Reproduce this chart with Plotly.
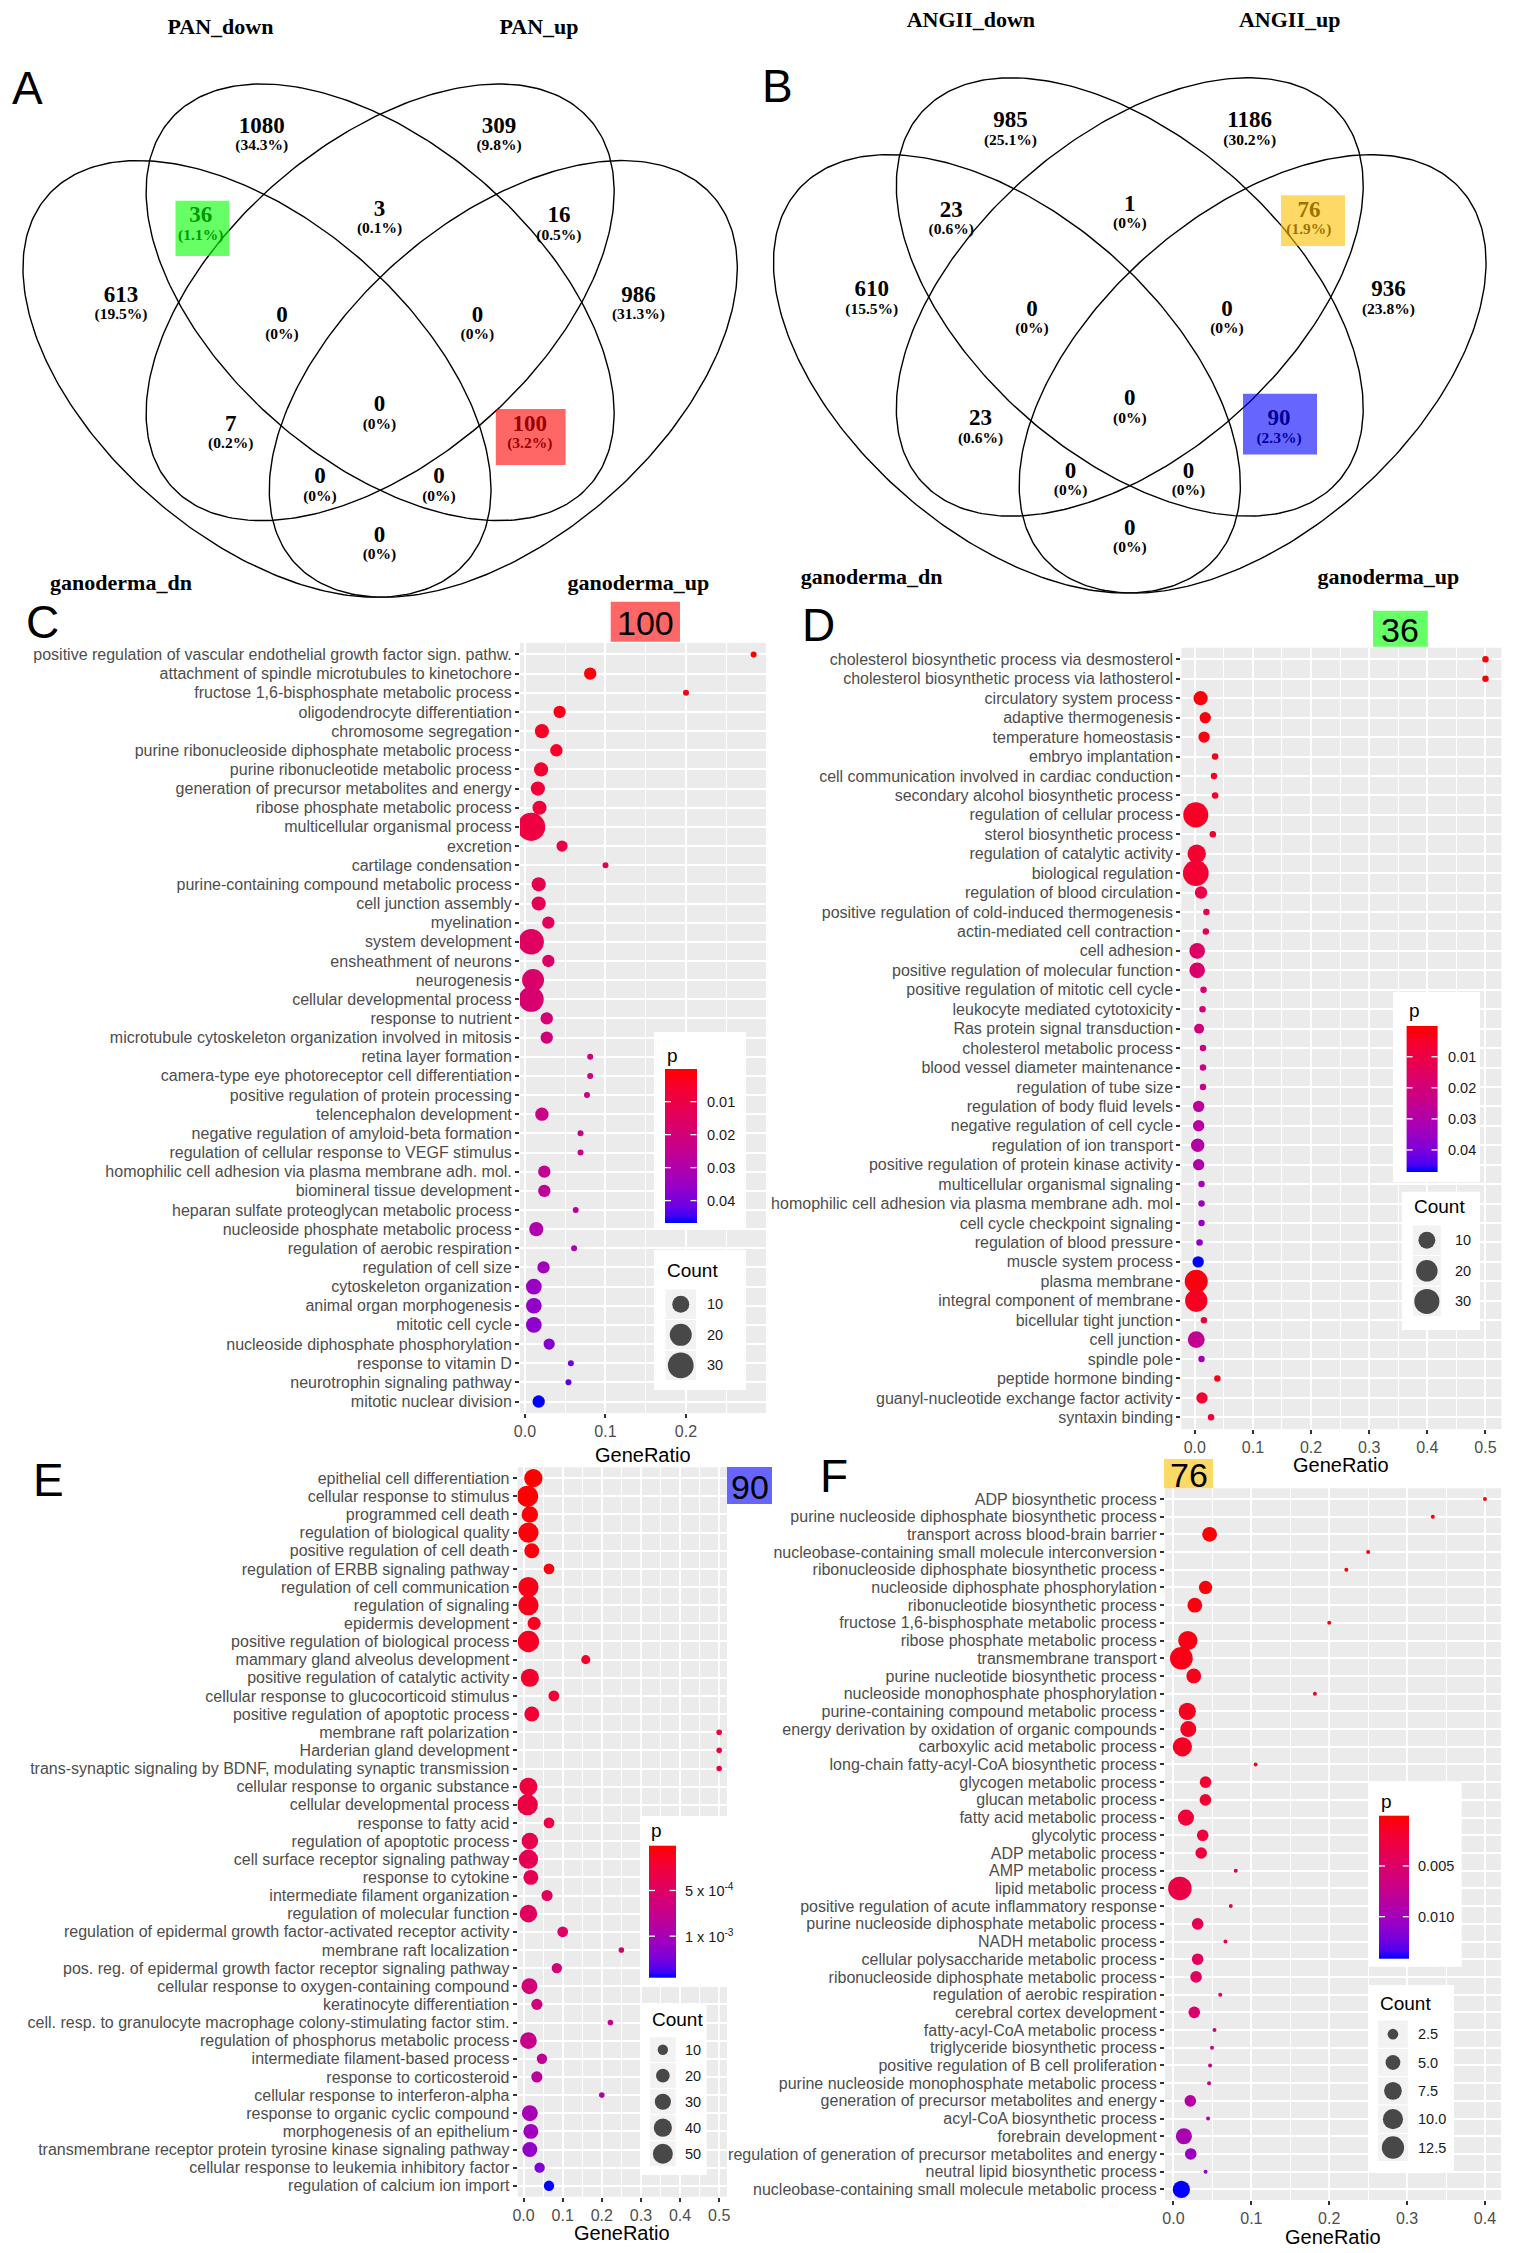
import numpy as np
import plotly.graph_objects as go

W, H = 1515, 2253

# ---------------- DATA ----------------
venn_A_sets = ["PAN_down", "PAN_up", "ganoderma_dn", "ganoderma_up"]
venn_A_counts = [1080, 309, 36, 3, 16, 613, 0, 0, 986, 7, 0, 100, 0, 0, 0]
venn_B_sets = ["ANGII_down", "ANGII_up", "ganoderma_dn", "ganoderma_up"]
venn_B_counts = [985, 1186, 23, 1, 76, 610, 0, 0, 936, 23, 0, 90, 0, 0, 0]

C_terms = [
    "positive regulation of vascular endothelial growth factor sign. pathw.",
    "attachment of spindle microtubules to kinetochore",
    "fructose 1,6-bisphosphate metabolic process",
    "oligodendrocyte differentiation",
    "chromosome segregation",
    "purine ribonucleoside diphosphate metabolic process",
    "purine ribonucleotide metabolic process",
    "generation of precursor metabolites and energy",
    "ribose phosphate metabolic process",
    "multicellular organismal process",
    "excretion",
    "cartilage condensation",
    "purine-containing compound metabolic process",
    "cell junction assembly",
    "myelination",
    "system development",
    "ensheathment of neurons",
    "neurogenesis",
    "cellular developmental process",
    "response to nutrient",
    "microtubule cytoskeleton organization involved in mitosis",
    "retina layer formation",
    "camera-type eye photoreceptor cell differentiation",
    "positive regulation of protein processing",
    "telencephalon development",
    "negative regulation of amyloid-beta formation",
    "regulation of cellular response to VEGF stimulus",
    "homophilic cell adhesion via plasma membrane adh. mol.",
    "biomineral tissue development",
    "heparan sulfate proteoglycan metabolic process",
    "nucleoside phosphate metabolic process",
    "regulation of aerobic respiration",
    "regulation of cell size",
    "cytoskeleton organization",
    "animal organ morphogenesis",
    "mitotic cell cycle",
    "nucleoside diphosphate phosphorylation",
    "response to vitamin D",
    "neurotrophin signaling pathway",
    "mitotic nuclear division",
]
C_ratio = [0.284, 0.081, 0.200, 0.043, 0.021, 0.039, 0.020, 0.016, 0.018, 0.0077,
           0.046, 0.100, 0.017, 0.017, 0.029, 0.0077, 0.029, 0.010, 0.0077, 0.027,
           0.027, 0.081, 0.081, 0.077, 0.021, 0.069, 0.069, 0.024, 0.024, 0.063,
           0.014, 0.061, 0.023, 0.011, 0.011, 0.011, 0.030, 0.057, 0.054, 0.017]
C_count = [1, 4, 1, 4, 6, 4, 6, 6, 6, 37, 3, 1, 6, 6, 4, 29, 4, 20, 28, 4,
           4, 1, 1, 1, 5, 1, 1, 4, 4, 1, 6, 1, 4, 8, 8, 8, 3, 1, 1, 4]
C_p = [0.0001, 0.0015, 0.002, 0.003, 0.0045, 0.005, 0.006, 0.0075, 0.008, 0.009,
       0.010, 0.011, 0.012, 0.0125, 0.014, 0.015, 0.016, 0.017, 0.018, 0.019,
       0.020, 0.021, 0.021, 0.022, 0.023, 0.024, 0.024, 0.025, 0.026, 0.028,
       0.030, 0.031, 0.033, 0.035, 0.036, 0.037, 0.038, 0.041, 0.043, 0.0467]

D_terms = [
    "cholesterol biosynthetic process via desmosterol",
    "cholesterol biosynthetic process via lathosterol",
    "circulatory system process",
    "adaptive thermogenesis",
    "temperature homeostasis",
    "embryo implantation",
    "cell communication involved in cardiac conduction",
    "secondary alcohol biosynthetic process",
    "regulation of cellular process",
    "sterol biosynthetic process",
    "regulation of catalytic activity",
    "biological regulation",
    "regulation of blood circulation",
    "positive regulation of cold-induced thermogenesis",
    "actin-mediated cell contraction",
    "cell adhesion",
    "positive regulation of molecular function",
    "positive regulation of mitotic cell cycle",
    "leukocyte mediated cytotoxicity",
    "Ras protein signal transduction",
    "cholesterol metabolic process",
    "blood vessel diameter maintenance",
    "regulation of tube size",
    "regulation of body fluid levels",
    "negative regulation of cell cycle",
    "regulation of ion transport",
    "positive regulation of protein kinase activity",
    "multicellular organismal signaling",
    "homophilic cell adhesion via plasma membrane adh. mol",
    "cell cycle checkpoint signaling",
    "regulation of blood pressure",
    "muscle system process",
    "plasma membrane",
    "integral component of membrane",
    "bicellular tight junction",
    "cell junction",
    "spindle pole",
    "peptide hormone binding",
    "guanyl-nucleotide exchange factor activity",
    "syntaxin binding",
]
D_ratio = [0.5, 0.5, 0.010, 0.018, 0.016, 0.035, 0.033, 0.035, 0.0017, 0.031,
           0.0033, 0.0017, 0.0107, 0.020, 0.019, 0.0041, 0.0041, 0.015, 0.0133, 0.0074,
           0.0141, 0.0141, 0.0141, 0.0066, 0.0066, 0.005, 0.0066, 0.0116, 0.0116, 0.0116,
           0.0082, 0.0058, 0.0025, 0.0025, 0.0157, 0.0025, 0.0116, 0.0389, 0.0124, 0.028]
D_count = [1, 1, 6, 3, 3, 1, 1, 1, 30, 1, 13, 32, 4, 1, 1, 8, 8, 1, 1, 2,
           1, 1, 1, 3, 3, 5, 3, 1, 1, 1, 1, 3, 24, 22, 1, 10, 1, 1, 3, 1]
D_p = [0.0001, 0.0001, 0.0012, 0.002, 0.0025, 0.003, 0.0035, 0.004, 0.0045, 0.005,
       0.006, 0.0065, 0.010, 0.012, 0.013, 0.016, 0.017, 0.018, 0.019, 0.021,
       0.022, 0.023, 0.024, 0.027, 0.028, 0.029, 0.030, 0.033, 0.034, 0.035,
       0.037, 0.047, 0.002, 0.004, 0.010, 0.025, 0.033, 0.003, 0.006, 0.007]

E_terms = [
    "epithelial cell differentiation",
    "cellular response to stimulus",
    "programmed cell death",
    "regulation of biological quality",
    "positive regulation of cell death",
    "regulation of ERBB signaling pathway",
    "regulation of cell communication",
    "regulation of signaling",
    "epidermis development",
    "positive regulation of biological process",
    "mammary gland alveolus development",
    "positive regulation of catalytic activity",
    "cellular response to glucocorticoid stimulus",
    "positive regulation of apoptotic process",
    "membrane raft polarization",
    "Harderian gland development",
    "trans-synaptic signaling by BDNF, modulating synaptic transmission",
    "cellular response to organic substance",
    "cellular developmental process",
    "response to fatty acid",
    "regulation of apoptotic process",
    "cell surface receptor signaling pathway",
    "response to cytokine",
    "intermediate filament organization",
    "regulation of molecular function",
    "regulation of epidermal growth factor-activated receptor activity",
    "membrane raft localization",
    "pos. reg. of epidermal growth factor receptor signaling pathway",
    "cellular response to oxygen-containing compound",
    "keratinocyte differentiation",
    "cell. resp. to granulocyte macrophage colony-stimulating factor stim.",
    "regulation of phosphorus metabolic process",
    "intermediate filament-based process",
    "response to corticosteroid",
    "cellular response to interferon-alpha",
    "response to organic cyclic compound",
    "morphogenesis of an epithelium",
    "transmembrane receptor protein tyrosine kinase signaling pathway",
    "cellular response to leukemia inhibitory factor",
    "regulation of calcium ion import",
]
E_ratio = [0.025, 0.010, 0.016, 0.0124, 0.021, 0.065, 0.0124, 0.0124, 0.027, 0.0124,
           0.159, 0.016, 0.0774, 0.021, 0.5, 0.5, 0.5, 0.0124, 0.010, 0.065,
           0.016, 0.0124, 0.0186, 0.060, 0.0124, 0.100, 0.25, 0.085, 0.015, 0.034,
           0.222, 0.0124, 0.047, 0.034, 0.200, 0.016, 0.0186, 0.016, 0.041, 0.065]
E_count = [40, 58, 32, 52, 25, 11, 52, 52, 18, 58, 7, 40, 11, 25, 2, 2, 2, 39, 55, 11,
           32, 46, 25, 12, 37, 11, 2, 10, 29, 12, 2, 33, 10, 12, 2, 29, 25, 25, 10, 10]
E_p = [0.00001, 0.00002, 0.00004, 0.00005, 0.00006, 0.00008, 0.0001, 0.00011, 0.00013, 0.00014,
       0.00016, 0.00018, 0.0002, 0.00022, 0.00024, 0.00025, 0.00026, 0.00028, 0.0003, 0.00033,
       0.00035, 0.00038, 0.0004, 0.00043, 0.00046, 0.0005, 0.00055, 0.0006, 0.00062, 0.00065,
       0.0007, 0.00075, 0.0008, 0.00085, 0.0009, 0.001, 0.00105, 0.00112, 0.0012, 0.00145]

F_terms = [
    "ADP biosynthetic process",
    "purine nucleoside diphosphate biosynthetic process",
    "transport across blood-brain barrier",
    "nucleobase-containing small molecule interconversion",
    "ribonucleoside diphosphate biosynthetic process",
    "nucleoside diphosphate phosphorylation",
    "ribonucleotide biosynthetic process",
    "fructose 1,6-bisphosphate metabolic process",
    "ribose phosphate metabolic process",
    "transmembrane transport",
    "purine nucleotide biosynthetic process",
    "nucleoside monophosphate phosphorylation",
    "purine-containing compound metabolic process",
    "energy derivation by oxidation of organic compounds",
    "carboxylic acid metabolic process",
    "long-chain fatty-acyl-CoA biosynthetic process",
    "glycogen metabolic process",
    "glucan metabolic process",
    "fatty acid metabolic process",
    "glycolytic process",
    "ADP metabolic process",
    "AMP metabolic process",
    "lipid metabolic process",
    "positive regulation of acute inflammatory response",
    "purine nucleoside diphosphate metabolic process",
    "NADH metabolic process",
    "cellular polysaccharide metabolic process",
    "ribonucleoside diphosphate metabolic process",
    "regulation of aerobic respiration",
    "cerebral cortex development",
    "fatty-acyl-CoA metabolic process",
    "triglyceride biosynthetic process",
    "positive regulation of B cell proliferation",
    "purine nucleoside monophosphate metabolic process",
    "generation of precursor metabolites and energy",
    "acyl-CoA biosynthetic process",
    "forebrain development",
    "regulation of generation of precursor metabolites and energy",
    "neutral lipid biosynthetic process",
    "nucleobase-containing small molecule metabolic process",
]
F_ratio = [0.4, 0.333, 0.0464, 0.25, 0.222, 0.0412, 0.0274, 0.2, 0.0184, 0.0101,
           0.026, 0.1816, 0.0177, 0.019, 0.0114, 0.1055, 0.0412, 0.041, 0.016, 0.0375,
           0.0356, 0.08, 0.0082, 0.0736, 0.031, 0.0667, 0.031, 0.029, 0.06, 0.0267,
           0.0527, 0.0495, 0.047, 0.0457, 0.0216, 0.0444, 0.0134, 0.0222, 0.0412, 0.0101]
F_count = [1, 1, 5, 1, 1, 4, 5, 1, 9, 13, 5, 1, 7, 6, 9, 1, 3, 3, 6, 3,
           3, 1, 14, 1, 3, 1, 3, 3, 1, 3, 1, 1, 1, 1, 3, 1, 6, 3, 1, 7]
F_p = [0.00005, 0.0001, 0.0002, 0.0003, 0.0004, 0.0005, 0.0006, 0.0007, 0.0008, 0.0009,
       0.001, 0.0011, 0.0012, 0.0013, 0.0014, 0.0016, 0.0018, 0.0019, 0.0022, 0.0024,
       0.0025, 0.0028, 0.003, 0.0033, 0.0038, 0.004, 0.0043, 0.0045, 0.005, 0.0053,
       0.006, 0.0064, 0.007, 0.0075, 0.0085, 0.009, 0.0095, 0.0105, 0.011, 0.0141]

C_p_ticks = [0.01, 0.02, 0.03, 0.04]
D_p_ticks = [0.01, 0.02, 0.03, 0.04]
E_p_ticks = [5e-4, 1e-3]
F_p_ticks = [0.005, 0.010]
C_size_breaks = [10, 20, 30]
D_size_breaks = [10, 20, 30]
E_size_breaks = [10, 20, 30, 40, 50]
F_size_breaks = [2.5, 5.0, 7.5, 10.0, 12.5]

# ---------------- STYLE / LAYOUT ----------------
CS = [[0, "rgb(255,0,0)"], [0.125, "rgb(244,0,49)"], [0.25, "rgb(232,0,79)"],
      [0.375, "rgb(217,0,109)"], [0.5, "rgb(201,0,136)"], [0.625, "rgb(179,0,167)"],
      [0.75, "rgb(154,0,195)"], [0.875, "rgb(115,0,224)"], [0.95, "rgb(75,0,243)"],
      [1, "rgb(0,0,255)"]]
SANS = "Liberation Sans, Arial, sans-serif"
SERIF = "Liberation Serif, Times New Roman, serif"
TICKCOL = "#333333"
LABCOL = "#4D4D4D"

PANELS = [
    dict(terms=C_terms, ratio=C_ratio, count=C_count, p=C_p,
         box=(520, 766, 643, 1413), xr=(-0.0062, 0.2994), sz=(6.0, 3.67), title_y=1455,
         letter=("C", 42, 622), tag=("100", "rgb(255,102,102)", (610.7, 680, 601.7, 641.7)),
         pticks=C_p_ticks, ptext=["0.01", "0.02", "0.03", "0.04"],
         pbg=(654, 746, 1032, 1230), bar=(665, 696.5, 1069, 1222.7), ptitle=(665, 1055), plab=705,
         sbreaks=C_size_breaks, stext=["10", "20", "30"],
         cbg=(654, 746, 1250, 1390), key=(665, 696.5, 1289, 1380.7), ctitle=(665, 1270), clab=705),
    dict(terms=D_terms, ratio=D_ratio, count=D_count, p=D_p,
         box=(1181.3, 1501.5, 647.7, 1429), xr=(-0.0232, 0.5276), sz=(6.5, 3.45), title_y=1465,
         letter=("D", 818.7, 625), tag=("36", "rgb(102,255,102)", (1373, 1427.8, 610.7, 646.7)),
         pticks=D_p_ticks, ptext=["0.01", "0.02", "0.03", "0.04"],
         pbg=(1393, 1480, 992, 1182), bar=(1406.6, 1437.5, 1026, 1171.7), ptitle=(1406.6, 1010), plab=1446,
         sbreaks=D_size_breaks, stext=["10", "20", "30"],
         cbg=(1401.8, 1480, 1191.7, 1330), key=(1412.4, 1441.3, 1225, 1316.7), ctitle=(1412.4, 1206), clab=1453.4),
    dict(terms=E_terms, ratio=E_ratio, count=E_count, p=E_p,
         box=(517.7, 727, 1467.3, 2196.7), xr=(-0.015, 0.52), sz=(3.2, 2.4), title_y=2233.3,
         letter=("E", 48.5, 1480), tag=("90", "rgb(102,102,255)", (727, 772, 1467, 1504)),
         pticks=E_p_ticks, ptext=["5 x 10<sup>-4</sup>", "1 x 10<sup>-3</sup>"],
         pbg=(640, 727, 1816, 1985), bar=(649, 675.7, 1845.7, 1977.3), ptitle=(649, 1830.7), plab=683.3,
         sbreaks=E_size_breaks, stext=["10", "20", "30", "40", "50"],
         cbg=(640, 706.7, 2005, 2175), key=(649.5, 676.2, 2036.7, 2166.7), ctitle=(649.5, 2019.3), clab=683.4),
    dict(terms=F_terms, ratio=F_ratio, count=F_count, p=F_p,
         box=(1165, 1501, 1488.3, 2200), xr=(-0.0109, 0.4206), sz=(4.0, 5.4), title_y=2237.3,
         letter=("F", 834, 1475.7), tag=("76", "rgb(255,217,102)", (1164, 1213, 1459, 1488.3)),
         pticks=F_p_ticks, ptext=["0.005", "0.010"],
         pbg=(1368.8, 1461.7, 1781, 1966.7), bar=(1379, 1408.8, 1815.7, 1958.3), ptitle=(1379, 1801.7), plab=1416.2,
         sbreaks=F_size_breaks, stext=["2.5", "5.0", "7.5", "10.0", "12.5"],
         cbg=(1368.8, 1454, 1985, 2171.7), key=(1377.6, 1408.3, 2020, 2161.7), ctitle=(1377.6, 2003.3), clab=1416.2),
]

# Venn layout (pixel positions of region labels)
VENN = [
    dict(sets=venn_A_sets, counts=venn_A_counts, origin=(23, 84), scale=(821, 766),
         set_pos=[(220.5, 28), (539, 28), (121, 584.7), (638.4, 584.7)],
         pos=[(261.7, 127), (499, 127), (200.7, 216.7), (379.5, 210), (558.9, 216.7),
              (121, 296), (282, 316), (477.4, 316), (638.4, 296), (230.7, 425),
              (379.5, 405.7), (529.8, 425), (320, 477.7), (439, 477.7), (379.5, 536)],
         boxes=[((175.5, 229.3, 200.7, 256), "rgb(0,255,0)"), ((495.8, 565.6, 409, 465), "rgb(255,0,0)")],
         letter=("A", 27.6, 87.5)),
    dict(sets=venn_B_sets, counts=venn_B_counts, origin=(773.5, 77.8), scale=(819, 769),
         set_pos=[(970.9, 21.4), (1289.7, 21.4), (871.7, 578.8), (1388.4, 578.8)],
         pos=[(1010.4, 121.4), (1249.7, 121.4), (951.2, 210.8), (1129.8, 205), (1308.9, 210.8),
              (871.7, 290.6), (1032, 310), (1227, 310), (1388.4, 290.6), (980.5, 419.3),
              (1129.8, 399.5), (1279, 419.3), (1070.6, 471.9), (1188.5, 471.9), (1129.8, 529)],
         boxes=[((1281, 1345, 195.3, 245.9), "rgb(255,192,0)"), ((1243, 1317, 393.7, 454.4), "rgb(0,0,255)")],
         letter=("B", 777, 86)),
]


def fx(x0, x1):
    return [x0 / W, x1 / W]


def fy(y0, y1):
    return [1 - y1 / H, 1 - y0 / H]


def dot_size(counts, a, b):
    return [a + b * np.sqrt(max(c - 1, 0)) for c in counts]


fig = go.Figure()
shapes = []
annotations = []
axes = {}
PX, PY = "x5", "y5"


def rect(x0, x1, y0, y1, color, layer="below", opacity=1.0, line=None):
    shapes.append(dict(type="rect", xref=PX, yref=PY, x0=x0, x1=x1, y0=y0, y1=y1,
                       fillcolor=color, line=line or dict(width=0), layer=layer, opacity=opacity))


def text(x, y, s, size, color="black", xanchor="center", family=SANS):
    annotations.append(dict(xref=PX, yref=PY, x=x, y=y, text=s, showarrow=False,
                            xanchor=xanchor, yanchor="middle",
                            font=dict(size=size, color=color, family=family)))


# ---- dot panels ----
for i, P in enumerate(PANELS, start=1):
    xa, ya = f"x{i}" if i > 1 else "x", f"y{i}" if i > 1 else "y"
    xk, yk = f"xaxis{i}" if i > 1 else "xaxis", f"yaxis{i}" if i > 1 else "yaxis"
    a, b = P["sz"]
    pmin, pmax = min(P["p"]), max(P["p"])
    fig.add_trace(go.Scatter(
        x=P["ratio"], y=P["terms"], mode="markers",
        marker=dict(size=dot_size(P["count"], a, b), color=P["p"], colorscale=CS,
                    cmin=pmin, cmax=pmax, line=dict(width=0), opacity=1),
        xaxis=xa, yaxis=ya, showlegend=False, hoverinfo="skip"))
    x0, x1, y0, y1 = P["box"]
    n = len(P["terms"])
    axes[xk] = dict(domain=fx(x0, x1), range=list(P["xr"]), anchor=ya, dtick=0.1, tick0=0,
                    tickformat=".1f", showgrid=True, gridcolor="white", gridwidth=2,
                    minor=dict(dtick=0.05, tick0=0, showgrid=True, gridcolor="white", gridwidth=1),
                    ticks="outside", ticklen=4, tickwidth=1.5, tickcolor=TICKCOL,
                    tickfont=dict(size=16, color=LABCOL, family=SANS), zeroline=False,
                    showline=False, automargin=False, fixedrange=True)
    axes[yk] = dict(domain=fy(y0, y1), type="category", categoryorder="array",
                    categoryarray=P["terms"], range=[n - 1 + 0.6, -0.6], anchor=xa,
                    tickmode="array", tickvals=P["terms"], ticktext=P["terms"],
                    showgrid=True, gridcolor="white", gridwidth=2,
                    ticks="outside", ticklen=4, tickwidth=1.5, tickcolor=TICKCOL,
                    tickfont=dict(size=16, color=LABCOL, family=SANS), zeroline=False,
                    showline=False, automargin=False, fixedrange=True)
    shapes.append(dict(type="rect", xref=f"{xa} domain", yref=f"{ya} domain", x0=0, x1=1, y0=0, y1=1,
                       fillcolor="#EBEBEB", line=dict(width=0), layer="below"))

# page axis (pixel coordinates) for Venn diagrams, legends and labels
axes["xaxis5"] = dict(domain=[0, 1], range=[0, W], visible=False, anchor="y5", fixedrange=True)
axes["yaxis5"] = dict(domain=[0, 1], range=[H, 0], visible=False, anchor="x5", fixedrange=True)

for i, P in enumerate(PANELS, start=1):
    a, b = P["sz"]
    pmin, pmax = min(P["p"]), max(P["p"])
    x0, x1, y0, y1 = P["box"]
    text((x0 + x1) / 2, P["title_y"], "GeneRatio", 20, "black")
    L, lx, ly = P["letter"]
    text(lx, ly, L, 46, "black")
    tg, tcol, (tx0, tx1, ty0, ty1) = P["tag"]
    rect(tx0, tx1, ty0, ty1, tcol)
    text((tx0 + tx1) / 2, (ty0 + ty1) / 2 + 1, tg, 34, "black")
    # p legend
    rect(*P["pbg"], "white")
    bx0, bx1, by0, by1 = P["bar"]
    N = 160
    zv = np.linspace(pmin, pmax, N)
    step = (by1 - by0) / N
    fig.add_trace(go.Heatmap(z=zv.reshape(-1, 1), x0=(bx0 + bx1) / 2, dx=bx1 - bx0,
                             y0=by0 + step / 2, dy=step, colorscale=CS, zmin=pmin, zmax=pmax,
                             showscale=False, xaxis=PX, yaxis=PY, hoverinfo="skip"))
    text(P["ptitle"][0], P["ptitle"][1], "p", 19, "black", xanchor="left")
    for v, t in zip(P["pticks"], P["ptext"]):
        yy = by0 + (v - pmin) / (pmax - pmin) * (by1 - by0)
        for (lx0, lx1) in [(bx0, bx0 + 6), (bx1 - 6, bx1)]:
            shapes.append(dict(type="line", xref=PX, yref=PY, x0=lx0, x1=lx1, y0=yy, y1=yy,
                               line=dict(color="white", width=1.3), layer="above"))
        text(P["plab"], yy, t, 14.5, "#1A1A1A", xanchor="left")
    # count legend
    rect(*P["cbg"], "white")
    kx0, kx1, ky0, ky1 = P["key"]
    nk = len(P["sbreaks"])
    kh = (ky1 - ky0) / nk
    for j in range(nk):
        rect(kx0, kx1, ky0 + j * kh, ky0 + (j + 1) * kh, "#F2F2F2",
             line=dict(width=1, color="white"))
    cy = [ky0 + (j + 0.5) * kh for j in range(nk)]
    fig.add_trace(go.Scatter(x=[(kx0 + kx1) / 2] * nk, y=cy, mode="markers",
                             marker=dict(size=dot_size(P["sbreaks"], a, b), color="black",
                                         line=dict(width=0)),
                             xaxis=PX, yaxis=PY, showlegend=False, hoverinfo="skip"))
    text(P["ctitle"][0], P["ctitle"][1], "Count", 19, "black", xanchor="left")
    for yy, t in zip(cy, P["stext"]):
        text(P["clab"], yy, t, 14.5, "#1A1A1A", xanchor="left")

# ---- Venn diagrams ----
ELL = [(0.35, 0.47, -45), (0.5, 0.57, -45), (0.5, 0.57, 45), (0.65, 0.47, 45)]
for V in VENN:
    ox, oy = V["origin"]
    sx, sy = V["scale"]
    xs, ys = [], []
    t = np.linspace(0, 2 * np.pi, 300)
    for cx, cyy, ang in ELL:
        th = np.deg2rad(ang)
        ex = cx + 0.35 * np.cos(t) * np.cos(th) - 0.2 * np.sin(t) * np.sin(th)
        ey = cyy + 0.35 * np.cos(t) * np.sin(th) + 0.2 * np.sin(t) * np.cos(th)
        xs += list(ox + (ex - 0.065) * sx) + [None]
        ys += list(oy + (0.855 - ey) * sy) + [None]
    fig.add_trace(go.Scatter(x=xs, y=ys, mode="lines", line=dict(color="black", width=1.4),
                             xaxis=PX, yaxis=PY, showlegend=False, hoverinfo="skip"))
    total = sum(V["counts"])
    pct = [f"({round(100 * c / total, 1):g}%)" for c in V["counts"]]
    fig.add_trace(go.Scatter(x=[p[0] for p in V["pos"]], y=[p[1] for p in V["pos"]],
                             text=[f"<b>{c}</b>" for c in V["counts"]], mode="text",
                             textfont=dict(family=SERIF, size=23, color="black"),
                             xaxis=PX, yaxis=PY, showlegend=False, hoverinfo="skip"))
    fig.add_trace(go.Scatter(x=[p[0] for p in V["pos"]], y=[p[1] + 19.5 for p in V["pos"]],
                             text=[f"<b>{s}</b>" for s in pct], mode="text",
                             textfont=dict(family=SERIF, size=15.5, color="black"),
                             xaxis=PX, yaxis=PY, showlegend=False, hoverinfo="skip"))
    fig.add_trace(go.Scatter(x=[p[0] for p in V["set_pos"]], y=[p[1] for p in V["set_pos"]],
                             text=[f"<b>{s}</b>" for s in V["sets"]], mode="text",
                             textfont=dict(family=SERIF, size=22, color="black"),
                             xaxis=PX, yaxis=PY, showlegend=False, hoverinfo="skip"))
    for (bx, col) in V["boxes"]:
        rect(*bx, col, layer="above", opacity=0.6)
    L, lx, ly = V["letter"]
    text(lx, ly, L, 46, "black")

fig.update_layout(width=W, height=H, margin=dict(l=0, r=0, t=0, b=0),
                  paper_bgcolor="white", plot_bgcolor="rgba(0,0,0,0)",
                  font=dict(family=SANS), showlegend=False,
                  shapes=shapes, annotations=annotations, **axes)
fig.write_html("out.html", config={"displayModeBar": False},
               post_script="document.body.style.margin='0';")
